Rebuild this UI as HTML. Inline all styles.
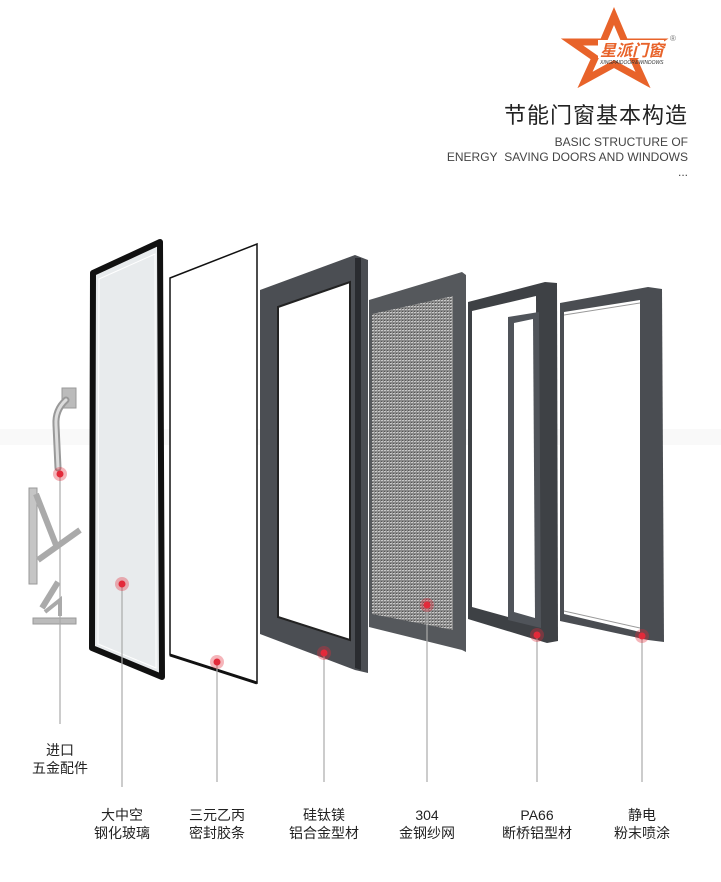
<!DOCTYPE html>
<html><head><meta charset="utf-8">
<style>
html,body{margin:0;padding:0;background:#fff;}
body{width:721px;height:882px;position:relative;overflow:hidden;font-family:"Liberation Sans","Noto Sans CJK SC",sans-serif;}
.t{position:absolute;color:#222;}
.lab{position:absolute;font-size:14px;line-height:18px;text-align:center;width:100px;color:#222;}
</style></head><body>
<svg width="721" height="882" style="position:absolute;left:0;top:0">
<defs>
<pattern id="mesh" width="3" height="3" patternUnits="userSpaceOnUse">
<rect width="3" height="3" fill="#8a8a8a"/><rect width="2" height="1" fill="#c8c8c8"/><rect x="0" y="2" width="1" height="1" fill="#555"/>
</pattern>
</defs>
<!-- logo star -->
<polygon points="614,16 625,42 657,42 633,58 643,80 614,64 585,80 595,58 572,42 603,42" fill="none" stroke="#e8632a" stroke-width="7" stroke-linejoin="miter"/>
<rect x="598" y="40" width="66" height="18" fill="#fff"/>
<text x="600" y="56" font-size="16" font-style="italic" font-weight="bold" fill="#e8632a" font-family="Noto Sans CJK SC,sans-serif">星派门窗</text>
<text x="600" y="64" font-size="5" font-style="italic" fill="#333">XINGPAIDOOR&amp;WINDOWS</text>
<text x="670" y="41" font-size="8" fill="#777">®</text>
<!-- watermark band -->
<rect x="0" y="429" width="721" height="16" fill="#000" opacity="0.025"/>
<!-- handle -->
<rect x="62" y="388" width="14" height="20" fill="#bbb" stroke="#999"/>
<path d="M66 400 Q55 410 56 425 L58 468" fill="none" stroke="#999" stroke-width="7" stroke-linecap="round"/>
<path d="M66 400 Q55 410 56 425 L58 468" fill="none" stroke="#ddd" stroke-width="3" stroke-linecap="round"/>
<!-- hinges -->
<rect x="29" y="488" width="8" height="96" fill="#c5c5c5" stroke="#999"/>
<path d="M36 494 L56 545 M38 560 L80 530" stroke="#aaa" stroke-width="6"/>
<path d="M58 582 L42 608" stroke="#aaa" stroke-width="6"/>
<rect x="33" y="618" width="43" height="6" fill="#bbb" stroke="#999"/>
<path d="M45 612 L60 600 L60 616" fill="none" stroke="#aaa" stroke-width="4"/>
<!-- panel 1 glass -->
<polygon points="93,273 160,242 162,677 92,648" fill="#e8ebed" stroke="#111" stroke-width="6" stroke-linejoin="round"/>
<polygon points="99,279 155,254 156,668 98,644" fill="none" stroke="#fff" stroke-width="1"/>
<!-- panel 2 -->
<polygon points="170,278 257,244 257,683 170,655" fill="#fff" stroke="#111" stroke-width="1.5"/>
<line x1="170" y1="655" x2="257" y2="683" stroke="#111" stroke-width="3"/>
<!-- panel 3 -->
<polygon points="260,290 355,255 368,260 368,673 355,670 260,634" fill="#4b4e53"/>
<polygon points="355,258 361,258 361,670 355,668" fill="#2a2c30"/>
<polygon points="278,307 350,282 350,640 278,617" fill="#fff" stroke="#222" stroke-width="2"/>
<!-- panel 4 mesh -->
<polygon points="369,300 462,272 466,275 466,652 462,650 369,627" fill="#55585c"/>
<polygon points="372,314 453,296 453,630 372,614" fill="url(#mesh)"/>
<!-- panel 5 -->
<polygon points="468,302 545,282 557,283 558,641 547,643 468,619" fill="#3e4145"/>
<polygon points="472,311 536,296 537,625 472,607" fill="#fff"/>
<polygon points="508,317 539,312 541,628 508,620" fill="#50545a"/>
<polygon points="514,323 533,319 535,618 514,612" fill="#fff"/>
<!-- panel 6 -->
<polygon points="560,303 648,287 662,289 664,642 648,640 560,621" fill="#4a4d52"/>
<polygon points="564,312 640,300 640,632 564,614" fill="#fff"/>
<line x1="564" y1="315" x2="640" y2="303" stroke="#999" stroke-width="1"/>
<line x1="564" y1="611" x2="640" y2="628" stroke="#999" stroke-width="1"/>
<!-- connector lines -->
<g stroke="#aaa" stroke-width="1.2">
<line x1="60" y1="474" x2="60" y2="724"/>
<line x1="122" y1="584" x2="122" y2="787"/>
<line x1="217" y1="662" x2="217" y2="782"/>
<line x1="324" y1="653" x2="324" y2="782"/>
<line x1="427" y1="605" x2="427" y2="782"/>
<line x1="537" y1="635" x2="537" y2="782"/>
<line x1="642" y1="636" x2="642" y2="782"/>
</g>
<g fill="#e32a3a">
<circle cx="60" cy="474" r="7" opacity="0.35"/><circle cx="60" cy="474" r="3.5"/>
<circle cx="122" cy="584" r="7" opacity="0.35"/><circle cx="122" cy="584" r="3.5"/>
<circle cx="217" cy="662" r="7" opacity="0.35"/><circle cx="217" cy="662" r="3.5"/>
<circle cx="324" cy="653" r="7" opacity="0.35"/><circle cx="324" cy="653" r="3.5"/>
<circle cx="427" cy="605" r="7" opacity="0.35"/><circle cx="427" cy="605" r="3.5"/>
<circle cx="537" cy="635" r="7" opacity="0.35"/><circle cx="537" cy="635" r="3.5"/>
<circle cx="642" cy="636" r="7" opacity="0.35"/><circle cx="642" cy="636" r="3.5"/>
</g>
</svg>
<div class="t" style="right:33px;top:98px;font-size:22px;letter-spacing:1px;">节能门窗基本构造</div>
<div class="t" style="right:33px;top:135px;font-size:12px;color:#444;text-align:right;line-height:15px;">BASIC STRUCTURE OF<br>ENERGY&nbsp; SAVING DOORS AND WINDOWS<br>...</div>
<div class="lab" style="left:10px;top:741px;">进口<br>五金配件</div>
<div class="lab" style="left:72px;top:806px;">大中空<br>钢化玻璃</div>
<div class="lab" style="left:167px;top:806px;">三元乙丙<br>密封胶条</div>
<div class="lab" style="left:274px;top:806px;">硅钛镁<br>铝合金型材</div>
<div class="lab" style="left:377px;top:806px;">304<br>金钢纱网</div>
<div class="lab" style="left:487px;top:806px;">PA66<br>断桥铝型材</div>
<div class="lab" style="left:592px;top:806px;">静电<br>粉末喷涂</div>
</body></html>
